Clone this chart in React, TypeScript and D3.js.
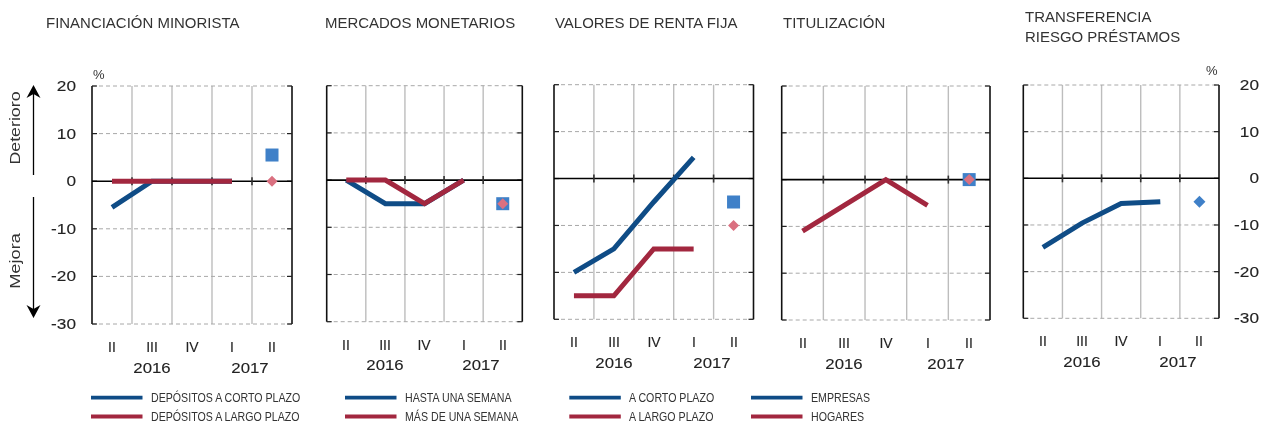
import React from "react";
import * as d3 from "d3";

// ---------- data ----------
const quarterLabels = ["II", "III", "IV", "I", "II"];
const yearLabels = ["2016", "2017"];
const yTicks = [20, 10, 0, -10, -20, -30];

// Financiación minorista
const finMinCorto = [-5.5, 0, 0, 0];
const finMinLargo = [0, 0, 0, 0];
const finMinCortoNext = 5.5;
const finMinLargoNext = 0;
// Mercados monetarios
const monHasta = [0, -5, -5, 0];
const monMas = [0, 0, -5, 0];
const monHastaNext = -5;
const monMasNext = -5;
// Valores de renta fija
const rfCorto = [-20, -15, -5, 4.5];
const rfLargo = [-25, -25, -15, -15];
const rfCortoNext = -5;
const rfLargoNext = -10;
// Titulización
const titHogares = [-11, -5.5, 0, -5.5];
const titEmpresasNext = 0;
const titHogaresNext = 0;
// Transferencia riesgo préstamos
const trEmpresas = [-14.8, -9.6, -5.4, -5];
const trEmpresasNext = -5;

const titles = [
  ["FINANCIACIÓN MINORISTA"],
  ["MERCADOS MONETARIOS"],
  ["VALORES DE RENTA FIJA"],
  ["TITULIZACIÓN"],
  ["TRANSFERENCIA", "RIESGO PRÉSTAMOS"],
];

const legendCols = [
  ["DEPÓSITOS A CORTO PLAZO", "DEPÓSITOS A LARGO PLAZO"],
  ["HASTA UNA SEMANA", "MÁS DE UNA SEMANA"],
  ["A CORTO PLAZO", "A LARGO PLAZO"],
  ["EMPRESAS", "HOGARES"],
];

// ---------- styles ----------
const BLUE = "#0f4c86";
const RED = "#a2273f";
const SQ = "#3f80c8";
const PINK = "#da7080";
const FONT = "'Liberation Sans', Arial, sans-serif";
const TXT = "#333";

type Line = { values: number[]; color: string };
type Marker = { value: number; shape: "square" | "diamond"; color: string; size: number };

const series: { lines: Line[]; markers: Marker[] }[] = [
  {
    lines: [
      { values: finMinCorto, color: BLUE },
      { values: finMinLargo, color: RED },
    ],
    markers: [
      { value: finMinCortoNext, shape: "square", color: SQ, size: 13 },
      { value: finMinLargoNext, shape: "diamond", color: PINK, size: 11 },
    ],
  },
  {
    lines: [
      { values: monHasta, color: BLUE },
      { values: monMas, color: RED },
    ],
    markers: [
      { value: monHastaNext, shape: "square", color: SQ, size: 13 },
      { value: monMasNext, shape: "diamond", color: PINK, size: 11 },
    ],
  },
  {
    lines: [
      { values: rfCorto, color: BLUE },
      { values: rfLargo, color: RED },
    ],
    markers: [
      { value: rfCortoNext, shape: "square", color: SQ, size: 13 },
      { value: rfLargoNext, shape: "diamond", color: PINK, size: 11 },
    ],
  },
  {
    lines: [{ values: titHogares, color: RED }],
    markers: [
      { value: titEmpresasNext, shape: "square", color: SQ, size: 13 },
      { value: titHogaresNext, shape: "diamond", color: PINK, size: 11 },
    ],
  },
  {
    lines: [{ values: trEmpresas, color: BLUE }],
    markers: [{ value: trEmpresasNext, shape: "diamond", color: SQ, size: 12 }],
  },
];

// layout per panel
const layout = [
  { left: 92, right: 292, top: 86, bottom: 324, titleX: 46 },
  { left: 326.7, right: 522.3, top: 85.7, bottom: 321.7, titleX: 325 },
  { left: 554, right: 753.5, top: 84.7, bottom: 319.3, titleX: 555 },
  { left: 781.7, right: 990, top: 86, bottom: 320, titleX: 783 },
  { left: 1023.3, right: 1219, top: 85, bottom: 318.3, titleX: 1025 },
];

function SText(props: {
  x: number;
  y: number;
  sx?: number;
  size: number;
  anchor?: string;
  rotate?: number;
  fill?: string;
  bold?: number;
  children: React.ReactNode;
}) {
  const { x, y, sx = 1, size, anchor = "start", rotate = 0, fill = TXT, bold = 0 } = props;
  return (
    <text
      transform={`translate(${Math.round(x)},${Math.round(y)}) rotate(${rotate}) scale(${sx},1)`}
      fontSize={size}
      fontFamily={FONT}
      textAnchor={anchor}
      fill={fill}
      stroke={bold ? fill : "none"}
      strokeWidth={bold}
    >
      {props.children}
    </text>
  );
}

function Panel({ idx }: { idx: number }) {
  const L = layout[idx];
  const s = series[idx];
  const x = d3
    .scaleBand<number>()
    .domain(quarterLabels.map((_, i) => i))
    .range([L.left, L.right])
    .padding(0);
  const y = d3.scaleLinear().domain([-30, 20]).range([L.bottom, L.top]);
  const cx = (i: number) => (x(i) as number) + x.bandwidth() / 2;
  const line = d3
    .line<number>()
    .x((_, i) => cx(i))
    .y((d) => y(d));
  const boundaries = quarterLabels.slice(1).map((_, i) => x(i + 1) as number);
  const mi = quarterLabels.length - 1;
  const yearX = [cx(1), (cx(3) + cx(4)) / 2 - 2];
  return (
    <g>
      {/* vertical grid */}
      {boundaries.map((bx, i) => (
        <line key={"v" + i} x1={bx} x2={bx} y1={L.top} y2={L.bottom} stroke="#bdbdbd" strokeWidth={1.4} />
      ))}
      {/* horizontal dashed grid */}
      {yTicks
        .filter((t) => t !== 0)
        .map((t) => (
          <line
            key={"h" + t}
            x1={L.left}
            x2={L.right}
            y1={y(t)}
            y2={y(t)}
            stroke="#a8a8a8"
            strokeWidth={1}
            strokeDasharray="4,3"
          />
        ))}
      {/* borders */}
      <line x1={L.left} x2={L.left} y1={L.top} y2={L.bottom} stroke="#111" strokeWidth={1.6} />
      <line x1={L.right} x2={L.right} y1={L.top} y2={L.bottom} stroke="#111" strokeWidth={1.6} />
      {/* y ticks inward */}
      {yTicks.map((t) => (
        <g key={"t" + t}>
          <line x1={L.left} x2={L.left + 5} y1={y(t)} y2={y(t)} stroke="#222" strokeWidth={1.2} />
          <line x1={L.right - 5} x2={L.right} y1={y(t)} y2={y(t)} stroke="#222" strokeWidth={1.2} />
        </g>
      ))}
      {/* zero line */}
      <line x1={L.left} x2={L.right} y1={y(0)} y2={y(0)} stroke="#000" strokeWidth={1.6} />
      {boundaries.map((bx, i) => (
        <line key={"z" + i} x1={bx} x2={bx} y1={y(0) - 4} y2={y(0) + 4} stroke="#333" strokeWidth={1.6} />
      ))}
      {/* series */}
      {s.lines.map((ln, i) => (
        <path
          key={"l" + i}
          d={line(ln.values) || ""}
          fill="none"
          stroke={ln.color}
          strokeWidth={5}
          strokeLinecap="butt"
          strokeLinejoin="miter"
        />
      ))}
      {s.markers.map((m, i) => {
        const mx = cx(mi);
        const my = y(m.value);
        const h = m.size / 2;
        return m.shape === "square" ? (
          <rect key={"m" + i} x={mx - h} y={my - h} width={m.size} height={m.size} fill={m.color} />
        ) : (
          <path
            key={"m" + i}
            d={`M${mx},${my - h}L${mx + h},${my}L${mx},${my + h}L${mx - h},${my}Z`}
            fill={m.color}
          />
        );
      })}
      {/* category labels */}
      {quarterLabels.map((q, i) => (
        <SText key={"q" + i} x={cx(i)} y={L.bottom + 28} size={14} anchor="middle" fill="#222" bold={0.12}>
          {q}
        </SText>
      ))}
      {yearLabels.map((yl, i) => (
        <SText
          key={"y" + i}
          x={yearX[i]}
          y={L.bottom + 48.5}
          size={14}
          sx={1.2}
          anchor="middle"
          fill="#222"
          bold={0.12}
        >
          {yl}
        </SText>
      ))}
      {/* title */}
      {titles[idx].map((t, i) =>
        titles[idx].length > 1 ? (
          <SText key={"ti" + i} x={L.titleX} y={21.7 + i * 20} size={14} sx={1.07}>
            {t}
          </SText>
        ) : (
          <SText key={"ti" + i} x={L.titleX} y={28} size={14} sx={1.07}>
            {t}
          </SText>
        )
      )}
    </g>
  );
}

function Arrow({ x, y1, y2 }: { x: number; y1: number; y2: number }) {
  // y2 is the tip
  const dir = y2 < y1 ? 1 : -1;
  const head = `M${x},${y2}L${x + 7},${y2 + dir * 13}L${x},${y2 + dir * 9}L${x - 7},${y2 + dir * 13}Z`;
  return (
    <g>
      <line x1={x} x2={x} y1={y1} y2={y2 + dir * 8} stroke="#000" strokeWidth={1.3} />
      <path d={head} fill="#000" />
    </g>
  );
}

export default function App() {
  const L1 = layout[0];
  const L5 = layout[4];
  const y1 = d3.scaleLinear().domain([-30, 20]).range([L1.bottom, L1.top]);
  const y5 = d3.scaleLinear().domain([-30, 20]).range([L5.bottom, L5.top]);
  const legendX = [91, 345, 569.3, 751];
  const legendY = [397.7, 416.5];
  const legendColors = [BLUE, RED];
  return (
    <svg
      width={1263}
      height={423}
      style={{ position: "absolute", left: 0, top: 0, background: "#fff" }}
    >
      <rect x={0} y={0} width={1263} height={423} fill="#fff" />
      <g opacity={0.999}>
        {layout.map((_, i) => (
          <Panel key={i} idx={i} />
        ))}
        {/* left axis labels */}
        {yTicks.map((t) => (
          <SText key={"yl" + t} x={76} y={y1(t) + 5} size={14} sx={1.23} anchor="end" fill="#222" bold={0.12}>
            {t}
          </SText>
        ))}
        {yTicks.map((t) => (
          <SText key={"yr" + t} x={1259} y={y5(t) + 5} size={14} sx={1.23} anchor="end" fill="#222" bold={0.12}>
            {t}
          </SText>
        ))}
        <SText x={93} y={79} size={13}>
          %
        </SText>
        <SText x={1206} y={75} size={13}>
          %
        </SText>
        {/* side arrows */}
        <Arrow x={33.5} y1={175} y2={85} />
        <Arrow x={33.5} y1={197} y2={318} />
        <SText x={19.5} y={128} size={14} sx={1.27} anchor="middle" rotate={-90}>
          Deterioro
        </SText>
        <SText x={19.5} y={261} size={14} sx={1.3} anchor="middle" rotate={-90}>
          Mejora
        </SText>
        {/* legend */}
        {legendCols.map((col, ci) =>
          col.map((label, ri) => (
            <g key={"lg" + ci + ri}>
              <line
                x1={legendX[ci]}
                x2={legendX[ci] + 51.5}
                y1={legendY[ri]}
                y2={legendY[ri]}
                stroke={legendColors[ri]}
                strokeWidth={3.8}
              />
              <SText x={legendX[ci] + 59.5} y={legendY[ri] + 4} size={12.5} sx={0.85}>
                {label}
              </SText>
            </g>
          ))
        )}
      </g>
    </svg>
  );
}
